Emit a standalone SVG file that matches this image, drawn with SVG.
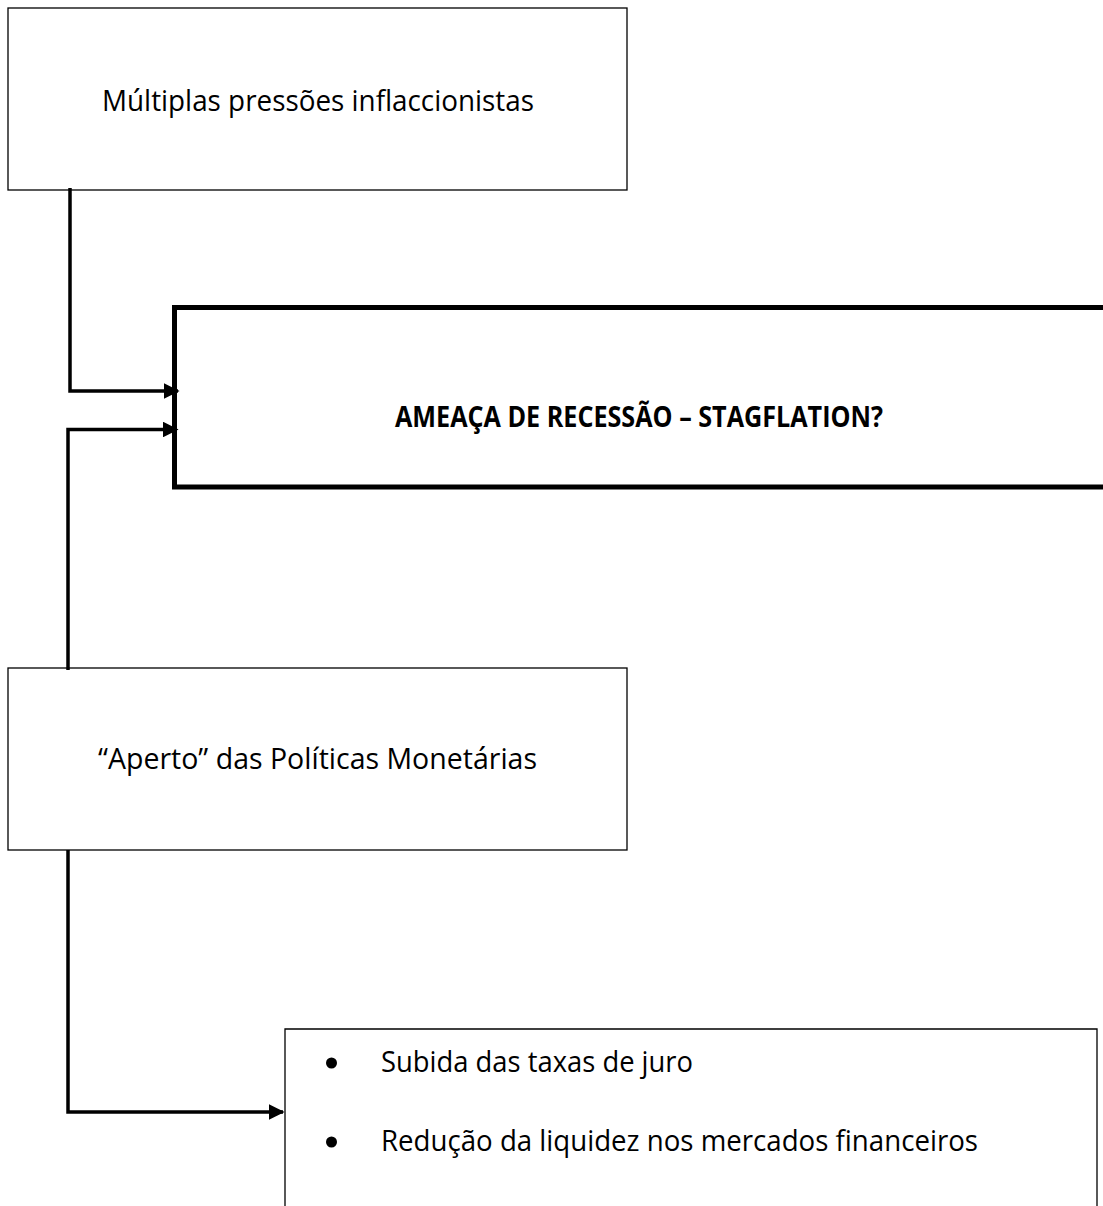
<svg xmlns="http://www.w3.org/2000/svg" width="1103" height="1206" viewBox="0 0 1103 1206">
<style>
.box{fill:#fff;stroke:#000;stroke-width:1.3}
.thick{fill:#fff;stroke:#000;stroke-width:5}
.t{font-family:"Open Sans","Noto Sans","Liberation Sans",sans-serif;font-size:29px;fill:#000}
.b{font-weight:bold;font-size:28px}
.c{fill:none;stroke:#000;stroke-width:3.5}
</style>
<defs>
<marker id="ah" viewBox="0 0 10 10" refX="9" refY="5" markerWidth="4.5" markerHeight="4.5" markerUnits="strokeWidth" orient="auto">
<path d="M0,0 L10,5 L0,10 Z" fill="#000"/>
</marker>
</defs>
<rect width="1103" height="1206" fill="#fff"/>
<g id="node-pressoes">
<rect class="box" x="8" y="8" width="619" height="182"/>
<text class="t" x="102" y="111" textLength="432" lengthAdjust="spacingAndGlyphs">Múltiplas pressões inflaccionistas</text>
</g>
<g id="node-recessao">
<path class="thick" d="M1110,307.5 L174.5,307.5 L174.5,487 L1110,487"/>
<text class="t b" x="395" y="427" textLength="488" lengthAdjust="spacingAndGlyphs">AMEAÇA DE RECESSÃO – STAGFLATION?</text>
</g>
<g id="node-aperto">
<rect class="box" x="8" y="668" width="619" height="182"/>
<text class="t" x="98" y="769" textLength="439" lengthAdjust="spacingAndGlyphs">“Aperto” das Políticas Monetárias</text>
</g>
<g id="node-efeitos">
<path class="box" d="M285,1210 L285,1029 L1097,1029 L1097,1210"/>
<circle cx="331.5" cy="1063" r="5.5"/>
<text class="t" x="381" y="1072" textLength="312" lengthAdjust="spacingAndGlyphs">Subida das taxas de juro</text>
<circle cx="331.5" cy="1142" r="5.5"/>
<text class="t" x="381" y="1151" textLength="597" lengthAdjust="spacingAndGlyphs">Redução da liquidez nos mercados financeiros</text>
</g>
<g id="connectors">
<path class="c" d="M70,188 L70,391 L178,391" marker-end="url(#ah)"/>
<path class="c" d="M68,670 L68,429.5 L177,429.5" marker-end="url(#ah)"/>
<path class="c" d="M68,850 L68,1112 L283,1112" marker-end="url(#ah)"/>
</g>
</svg>
